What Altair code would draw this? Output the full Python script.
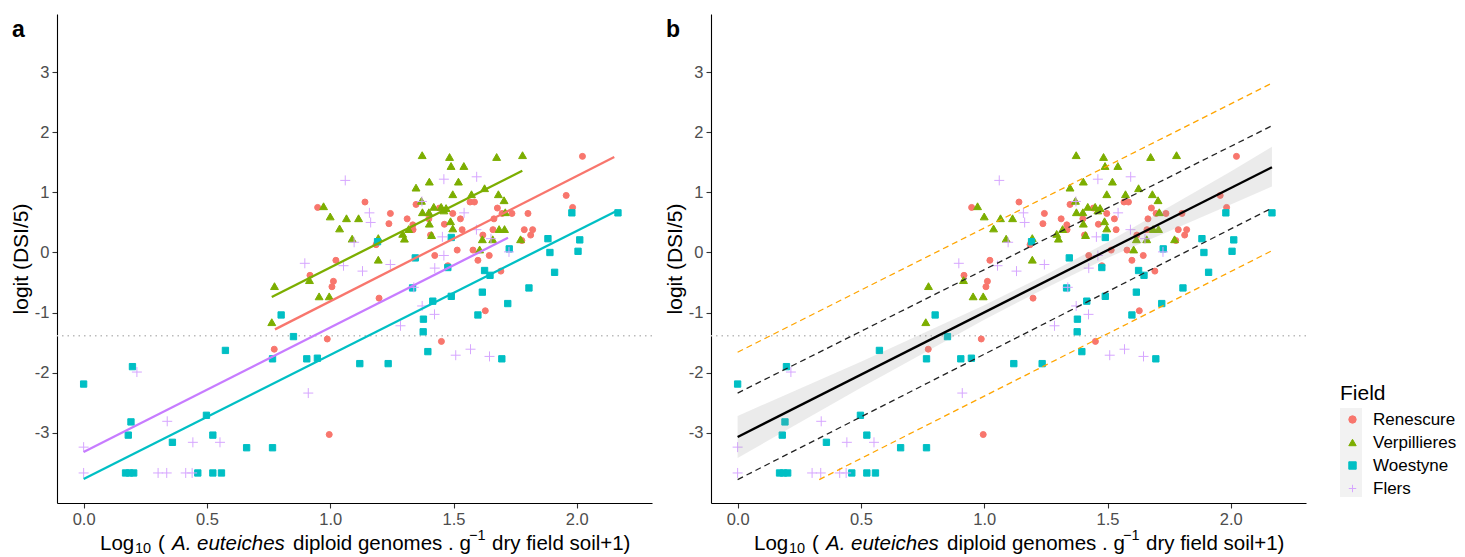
import altair as alt
import pandas as pd

FONT = "Liberation Sans"

FIELDS = ["Renescure", "Verpillieres", "Woestyne", "Flers"]
POINT_COLORS = ["#F8766D", "#7CAE00", "#00BFC4", "#D6A6FF"]
SHAPES = ["circle", "triangle-up", "square", "M-1,0L1,0M0,-1L0,1"]
POINT_SIZES = [36, 62, 40, 100]
LINE_COLORS = ["#F8766D", "#7CAE00", "#00BFC4", "#C77CFF"]

REN_X = [0.949, 1.141, 1.244, 1.238, 1.186, 1.023, 0.918, 1.013, 1.007, 1.198, 0.773, 0.988, 0.996,
         1.312, 1.335, 1.336, 1.348, 1.400, 1.407, 1.443, 1.463, 1.497, 1.528, 1.535, 1.567, 1.585,
         1.515, 1.579, 1.599, 1.619, 1.645, 1.660, 1.664, 1.678, 1.692, 1.697, 1.737, 1.777, 1.787,
         1.802, 1.813, 1.821, 1.629, 1.451, 1.477, 1.424, 1.957, 1.983, 2.023]
REN_Y = [0.75, 0.84, 0.65, 0.48, 0.13, -0.13, -0.38, -0.48, -0.57, -0.76, -1.61, -1.44, -3.03,
         0.56, 0.46, 0.38, 0.80, 0.56, 0.29, 0.74, 0.47, 0.65, 0.56, 0.38, 0.84, 0.84,
         0.04, 0.04, -0.13, 0.29, -0.05, 0.38, 0.56, 0.74, -0.31, 0.65, 0.65, 0.20, 0.38,
         0.65, 0.29, 0.38, -0.97, -1.48, -0.22, -0.05, 0.95, 0.75, 1.60]

VER_X = [1.373, 1.484, 1.490, 1.542, 1.675, 1.780, 1.402, 1.520, 1.348, 1.626, 1.497, 1.573,
         1.682, 1.705, 1.370, 0.973, 1.420, 1.450, 1.470, 1.461, 1.374, 1.400, 1.000, 1.066,
         1.115, 1.038, 1.402, 1.488, 1.497, 1.318, 1.294, 1.301, 1.195, 1.089, 1.411, 1.617,
         1.659, 1.685, 1.707, 1.710, 1.772, 1.606, 1.195, 0.774, 0.916, 0.955, 0.996, 0.763]
VER_Y = [1.62, 1.59, 1.44, 1.44, 1.59, 1.62, 1.18, 1.18, 1.08, 1.07, 0.97, 0.97,
         0.97, 0.87, 0.86, 0.77, 0.76, 0.76, 0.74, 0.70, 0.67, 0.67, 0.60, 0.57,
         0.57, 0.40, 0.48, 0.52, 0.40, 0.39, 0.31, 0.23, 0.24, 0.23, 0.29, 0.22,
         0.22, 0.39, 0.39, 0.67, 0.22, 0.05, -0.12, -0.56, -0.46, -0.73, -0.73, -1.16]

WOE_X = [0.000, 0.198, 0.192, 0.181, 0.360, 0.498, 0.524, 0.661, 0.766, 0.170, 0.186, 0.203,
         0.463, 0.524, 0.559, 0.575, 0.766, 0.801, 0.851, 0.905, 0.948, 1.120, 1.235, 1.192,
         1.345, 1.334, 1.416, 1.491, 1.378, 1.377, 1.396, 1.477, 1.491, 1.626, 1.648, 1.617,
         1.599, 1.696, 1.720, 1.726, 1.806, 1.883, 1.891, 1.910, 1.980, 2.012, 2.005, 2.167]
WOE_Y = [-2.19, -1.90, -2.82, -3.04, -3.16, -2.71, -3.04, -3.25, -3.25, -3.67, -3.67, -3.67,
         -3.67, -3.67, -3.67, -1.63, -1.77, -1.04, -1.40, -1.77, -1.76, -1.85, -1.85, 0.18,
         -0.09, -0.59, -0.81, -0.73, -1.11, -1.32, -1.65, -0.25, 0.25, -0.30, -0.38, -0.66,
         -1.04, -1.77, -0.85, 0.06, -0.59, 0.23, 0.00, -0.33, 0.66, 0.21, 0.02, 0.66]

FLE_X = [0.000, 0.000, 0.216, 0.339, 0.302, 0.337, 0.414, 0.440, 0.443, 0.553,
         0.911, 1.061, 1.159, 1.164, 0.897, 1.054, 1.097, 1.131, 1.244, 1.285,
         1.372, 1.373, 1.423, 1.424, 1.461, 1.455, 1.461, 1.543, 1.594, 1.593,
         1.509, 1.569, 1.646, 1.652, 1.725, 1.339]
FLE_Y = [-3.24, -3.67, -1.99, -2.81, -3.67, -3.67, -3.67, -3.67, -3.16, -3.16,
         -2.34, 1.20, 0.66, 0.50, -0.18, -0.22, 0.17, -0.31, -0.20, -1.22,
         0.85, -0.89, -1.03, -0.26, -0.05, 0.26, 1.22, 0.66, 1.26, 0.38,
         -1.71, -1.61, -1.73, 0.23, 0.01, -0.58]

# per-field regression lines (panel a)
FIT_X_START = [0.776, 0.763, 0.000, 0.000]
FIT_X_END = [2.152, 1.779, 2.165, 1.721]
FIT_Y_START = [-1.28, -0.74, -3.77, -3.32]
FIT_Y_END = [1.59, 1.36, 0.70, 0.245]

# pooled fit with confidence band (panel b)
POOLED_X = [0.0, 2.167]
POOLED_Y = [-3.07, 1.42]
BAND_X = [0.0, 0.5, 1.0, 1.25, 1.5, 2.0, 2.167]
BAND_LO = [-3.42, -2.25, -1.12, -0.59, -0.09, 0.80, 1.10]
BAND_HI = [-2.72, -1.82, -0.88, -0.37, 0.17, 1.35, 1.76]

BLACK_DASH_X_START = [0.0, 0.0]
BLACK_DASH_X_END = [2.167, 2.167]
BLACK_DASH_Y_START = [-2.34, -3.78]
BLACK_DASH_Y_END = [2.11, 0.74]
ORANGE_DASH_X_START = [0.0, 0.331]
ORANGE_DASH_X_END = [2.167, 2.167]
ORANGE_DASH_Y_START = [-1.66, -3.78]
ORANGE_DASH_Y_END = [2.82, 0.03]

THRESHOLD = [-1.386]

X_TICKS = [0.0, 0.5, 1.0, 1.5, 2.0]
Y_TICKS = [-3, -2, -1, 0, 1, 2, 3]
X_DOMAIN = [-0.108, 2.305]
Y_DOMAIN = [-4.17, 3.97]

TITLE_PARTS = ["Log", "10", "(", "A. euteiches", "diploid genomes . g", "\u22121", "dry field soil+1)"]
TITLE_STYLE = ["normal", "sub", "normal", "italic", "normal", "sup", "normal"]
TITLE_X = [43, 78, 101, 115, 236, 412, 435]

W, H = 595, 489

rows = []
for f, xs, ys in zip(FIELDS, [REN_X, VER_X, WOE_X, FLE_X], [REN_Y, VER_Y, WOE_Y, FLE_Y]):
    for x, y in zip(xs, ys):
        rows.append({"Field": f, "x": x, "y": y})
points_df = pd.DataFrame(rows)

fit_df = pd.DataFrame({"Field": FIELDS, "x0": FIT_X_START, "x1": FIT_X_END,
                       "y0": FIT_Y_START, "y1": FIT_Y_END})
pooled_df = pd.DataFrame({"x": POOLED_X, "y": POOLED_Y})
band_df = pd.DataFrame({"x": BAND_X, "lo": BAND_LO, "hi": BAND_HI})
black_df = pd.DataFrame({"x0": BLACK_DASH_X_START, "x1": BLACK_DASH_X_END,
                         "y0": BLACK_DASH_Y_START, "y1": BLACK_DASH_Y_END})
orange_df = pd.DataFrame({"x0": ORANGE_DASH_X_START, "x1": ORANGE_DASH_X_END,
                          "y0": ORANGE_DASH_Y_START, "y1": ORANGE_DASH_Y_END})
thr_df = pd.DataFrame({"y": THRESHOLD})

XS = alt.Scale(domain=X_DOMAIN, nice=False, zero=False)
YS = alt.Scale(domain=Y_DOMAIN, nice=False, zero=False)
one = alt.Data(values=[{"k": 1}])

LEGEND = alt.Legend(title="Field", orient="none", legendX=1283, legendY=369,
                    titleFontSize=21, titleFontWeight="normal", titleColor="black",
                    titleFont=FONT, labelFont=FONT, labelFontSize=17, labelColor="black",
                    symbolSize=55, symbolStrokeWidth=1, rowPadding=5, symbolOffset=4,
                    labelOffset=12, titlePadding=7)


def xq(field, axis=True):
    if axis:
        return alt.X(field, type="quantitative", scale=XS,
                     axis=alt.Axis(values=X_TICKS, format=".1f", title=None))
    return alt.X(field, type="quantitative", scale=XS)


def yq(field, axis=True):
    if axis:
        return alt.Y(field, type="quantitative", scale=YS,
                     axis=alt.Axis(values=Y_TICKS, format="d", title="logit (DSI/5)", titlePadding=3,
                                   labelExpr="replace(datum.label, '\u2212', '-')"))
    return alt.Y(field, type="quantitative", scale=YS)


def points_layers():
    out = []
    for f, s in zip(FIELDS, POINT_SIZES):
        out.append(
            alt.Chart(points_df).transform_filter(alt.datum.Field == f)
            .mark_point(filled=False, opacity=1, strokeWidth=1, size=s).encode(
                x=xq("x"), y=yq("y"),
                stroke=alt.Stroke("Field:N", scale=alt.Scale(domain=FIELDS, range=POINT_COLORS),
                                  legend=LEGEND),
                fill=alt.Fill("Field:N", scale=alt.Scale(domain=FIELDS, range=POINT_COLORS),
                              legend=LEGEND),
                shape=alt.Shape("Field:N", scale=alt.Scale(domain=FIELDS, range=SHAPES),
                                legend=LEGEND),
            )
        )
    return out


def threshold_layer():
    return alt.Chart(thr_df).mark_rule(color="#BBBBBB", strokeWidth=1.6, strokeDash=[1.5, 4]).encode(
        y=yq("y", False))


def title_layers():
    out = []
    for txt, sty, px in zip(TITLE_PARTS, TITLE_STYLE, TITLE_X):
        size, dy, style = 20.5, 0, "normal"
        if sty == "sub":
            size, dy = 14.5, 5
        elif sty == "sup":
            size, dy = 14.5, -8
        elif sty == "italic":
            style = "italic"
        out.append(alt.Chart(one).mark_text(text=txt, font=FONT, fontSize=size, fontStyle=style,
                                            align="left", baseline="middle", color="black", dy=dy)
                   .encode(x=alt.value(px), y=alt.value(H + 41)))
    return out


def panel_label(letter):
    return alt.Chart(one).mark_text(text=letter, font=FONT, fontSize=23, fontWeight="bold",
                                    align="left", baseline="middle", color="black").encode(
        x=alt.value(-45), y=alt.value(16))


fit_layers = []
for f, c in zip(FIELDS, LINE_COLORS):
    fit_layers.append(
        alt.Chart(fit_df).transform_filter(alt.datum.Field == f)
        .mark_rule(strokeWidth=2.3, color=c).encode(
            x=xq("x0", False), y=yq("y0", False), x2="x1", y2="y1")
    )

panel_a = alt.layer(
    threshold_layer(), *points_layers(), *fit_layers, panel_label("a"), *title_layers()
).properties(width=W, height=H)

band = alt.Chart(band_df).mark_area(color="#999999", opacity=0.2).encode(
    x=xq("x", False), y=yq("lo", False), y2="hi")
pooled = alt.Chart(pooled_df).mark_line(color="black", strokeWidth=2.3).encode(
    x=xq("x", False), y=yq("y", False))
black_dash = alt.Chart(black_df).mark_rule(color="#222222", strokeWidth=1.3, strokeDash=[6, 4]).encode(
    x=xq("x0", False), y=yq("y0", False), x2="x1", y2="y1")
orange_dash = alt.Chart(orange_df).mark_rule(color="#FFA500", strokeWidth=1.3, strokeDash=[6, 4]).encode(
    x=xq("x0", False), y=yq("y0", False), x2="x1", y2="y1")
key_bg = alt.Chart(one).mark_rect(fill="#F2F2F2").encode(
    x=alt.value(629), x2=alt.value(651), y=alt.value(394), y2=alt.value(483))

panel_b = alt.layer(
    threshold_layer(), key_bg, *points_layers(), band, pooled, black_dash, orange_dash,
    panel_label("b"), *title_layers()
).properties(width=W, height=H)

chart = alt.hconcat(panel_a, panel_b, spacing=11).properties(
    padding={"left": 2, "top": 6, "right": 0, "bottom": 0}
).configure_view(stroke=None).configure_axis(
    grid=False, domainColor="black", domainWidth=1.1, tickColor="#333333", tickSize=5,
    tickWidth=1.1, labelColor="#4D4D4D", labelFontSize=16.5, labelFont=FONT, titleFont=FONT,
    titleFontSize=21, titleFontWeight="normal", titleColor="black", labelPadding=3
)

chart.save("out.html", embed_options={"renderer": "svg", "actions": False})
